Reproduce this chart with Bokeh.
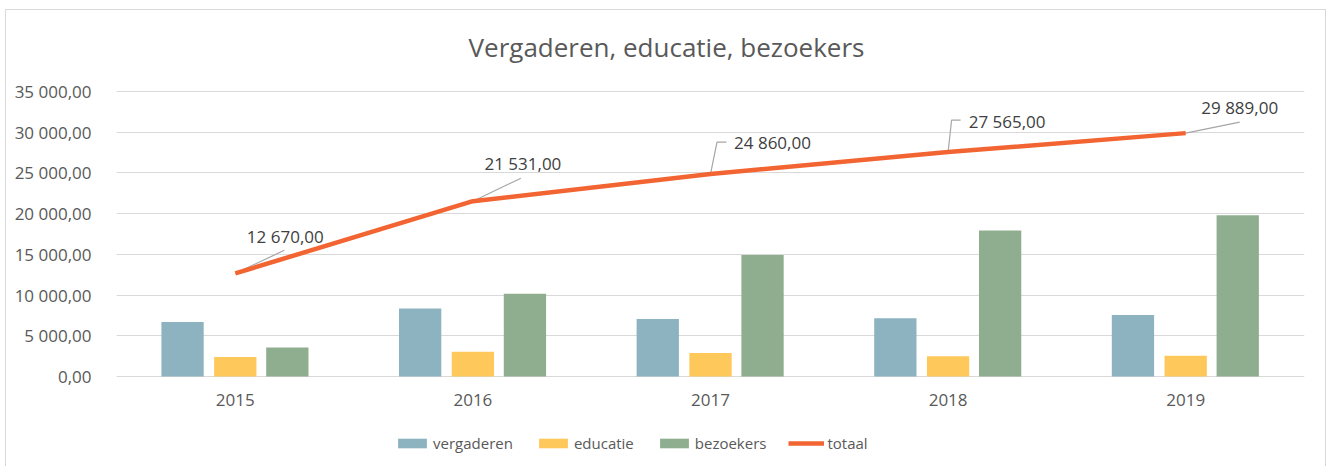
from bokeh.plotting import figure
from bokeh.models import (Range1d, FixedTicker, Legend, LegendItem, ColumnDataSource, Label)
from bokeh.transform import dodge
from bokeh.core.properties import value
from bokeh.embed import file_html
from bokeh.resources import INLINE

# ---- data ----
years = ["2015", "2016", "2017", "2018", "2019"]
vergaderen = [6700, 8350, 7050, 7150, 7550]
educatie = [2400, 3030, 2900, 2500, 2550]
bezoekers = [3570, 10151, 14910, 17915, 19789]
totaal = [12670, 21531, 24860, 27565, 29889]
y_ticks = [0, 5000, 10000, 15000, 20000, 25000, 30000, 35000]
Y_MAX = 35000
title_text = "Vergaderen, educatie, bezoekers"

# label offsets (px, y up) for data labels and leader lines (styling)
label_dx = [50, 50, 62, 59, 54]
label_dy = [37, 38, 32, 31, 26]
leader_pts = [
    [(49, 23)],
    [(48, 23)],
    [(6.5, 32), (16, 32)],
    [(3.5, 32), (12.5, 32)],
    [(54, 11)],
]

def fmt(v):
    return f"{v:,.2f}".replace(",", " ").replace(".", ",")

FONT = "Open Sans"
TXT = "#595959"

# layout (px)
W, H = 1321, 457
MB_L, MB_R, MB_T, MB_B = 110, 23, 2, 7
FRAME_W = W - MB_L - MB_R
FRAME_H = H - MB_T - MB_B
AXIS_H = 285             # px from 0 to Y_MAX
ABOVE = 79               # px of frame above Y_MAX (title area)
BELOW = FRAME_H - AXIS_H - ABOVE  # px below zero (axis labels + legend)
UNITS_PER_PX_Y = Y_MAX / AXIS_H
y_min = -BELOW * UNITS_PER_PX_Y
y_max = Y_MAX + ABOVE * UNITS_PER_PX_Y

idx = list(range(len(years)))

p = figure(width=W, height=H, output_backend="svg", toolbar_location=None,
           x_range=Range1d(-0.5, len(years) - 0.5), y_range=Range1d(y_min, y_max),
           min_border_left=MB_L, min_border_right=MB_R,
           min_border_top=MB_T, min_border_bottom=MB_B)
p.styles = {"margin-left": "5px", "margin-top": "9px",
            "border-top": "1px solid #d9d9d9", "border-left": "1px solid #d9d9d9",
            "border-right": "1px solid #d9d9d9"}
p.outline_line_color = None
p.background_fill_color = "white"
p.border_fill_color = "white"

src = ColumnDataSource(dict(x=idx, years=years, vergaderen=vergaderen, educatie=educatie,
                            bezoekers=bezoekers, totaal=totaal,
                            lbl=[fmt(v) for v in totaal], dx=label_dx,
                            dy=[-d for d in label_dy]))

bw = 0.178
r1 = p.vbar(x=dodge("x", -0.222), top="vergaderen", width=bw, source=src,
            fill_color="#8DB3C1", line_color=None)
r2 = p.vbar(x=dodge("x", 0.0), top="educatie", width=bw, source=src,
            fill_color="#FEC85A", line_color=None)
r3 = p.vbar(x=dodge("x", 0.219), top="bezoekers", width=bw, source=src,
            fill_color="#8FAE8F", line_color=None)

# leader lines
xs, ys = [], []
for i, pts in enumerate(leader_pts):
    lx = [i] + [i + dx / FRAME_W * len(years) for dx, dy in pts]
    ly = [totaal[i]] + [totaal[i] + dy * UNITS_PER_PX_Y for dx, dy in pts]
    xs.append(lx)
    ys.append(ly)
p.multi_line(xs=xs, ys=ys, line_color="#a6a6a6", line_width=1.2)

r4 = p.line(x="x", y="totaal", source=src, line_color="#F26532", line_width=4.5)

p.text(x="x", y="totaal", text="lbl", source=src, x_offset="dx", y_offset="dy",
       text_align="center", text_baseline="middle", text_font=value(FONT),
       text_font_size="17px", text_color="#404040")

# category labels (x axis drawn inside the frame at zero)
p.text(x="x", y=0, text="years", source=src, y_offset=17,
       text_align="center", text_baseline="top", text_font=value(FONT),
       text_font_size="17px", text_color=TXT)
p.xaxis.visible = False

# y axis
p.yaxis.ticker = FixedTicker(ticks=y_ticks)
p.yaxis.major_label_overrides = {t: fmt(t) for t in y_ticks}
p.yaxis.axis_line_color = None
p.yaxis.major_tick_line_color = None
p.yaxis.minor_tick_line_color = None
p.yaxis.major_label_standoff = 19
p.yaxis.major_label_text_font = FONT
p.yaxis.major_label_text_font_size = "17px"
p.yaxis.major_label_text_color = TXT

p.xgrid.grid_line_color = None
p.ygrid.ticker = FixedTicker(ticks=y_ticks)
p.ygrid.grid_line_color = "#d9d9d9"
p.ygrid.grid_line_width = 1

# title (inside the frame's top area, screen units from frame bottom-left)
p.add_layout(Label(x=666 - 116, y=FRAME_H - (46 - 12), x_units="screen", y_units="screen",
                   text=title_text, text_align="center", text_baseline="middle",
                   text_font=FONT, text_font_size="26px", text_color=TXT))

legend = Legend(items=[LegendItem(label="vergaderen", renderers=[r1]),
                       LegendItem(label="educatie", renderers=[r2]),
                       LegendItem(label="bezoekers", renderers=[r3]),
                       LegendItem(label="totaal", renderers=[r4])],
                orientation="horizontal", location=(278, 7),
                glyph_width=36, glyph_height=12, label_standoff=3, spacing=22,
                padding=0, margin=0, border_line_color=None,
                background_fill_alpha=0, label_text_font=FONT,
                label_text_font_size="15px", label_text_color=TXT,
                label_height=20)
p.add_layout(legend, "center")

open("out.html", "w").write(file_html(p, INLINE))
